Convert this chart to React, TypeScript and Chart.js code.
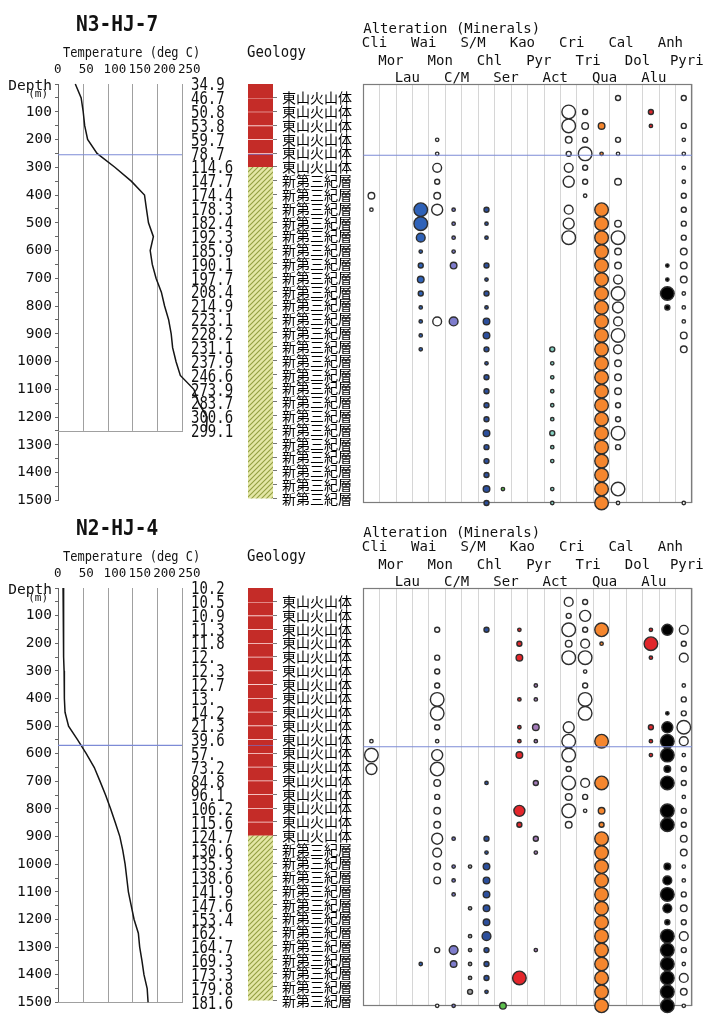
import React, { useEffect, useRef } from 'react';
import { Chart, registerables } from 'chart.js';

Chart.register(...registerables);

const MONO = '"DejaVu Sans Mono", monospace';
const CJK = '"Noto Sans CJK JP", sans-serif';

// ---------------- data ----------------
const minerals = ['Cli', 'Mor', 'Lau', 'Wai', 'Mon', 'C/M', 'S/M', 'Chl', 'Ser', 'Kao', 'Pyr', 'Act', 'Cri', 'Tri', 'Qua', 'Cal', 'Dol', 'Alu', 'Anh', 'Pyri'];

const tempTicks = [0, 50, 100, 150, 200, 250];
const depthAxisTicks = [0, 50, 100, 150, 200, 250, 300, 350, 400, 450, 500, 550, 600, 650, 700, 750, 800, 850, 900, 950, 1000, 1050, 1100, 1150, 1200, 1250, 1300, 1350, 1400, 1450, 1500];
const sampleDepths = [50, 100, 150, 200, 250, 300, 350, 400, 450, 500, 550, 600, 650, 700, 750, 800, 850, 900, 950, 1000, 1050, 1100, 1150, 1200, 1250, 1300, 1350, 1400, 1450, 1500];

const n3TempDepths = [0, 50, 100, 150, 200, 250, 300, 350, 400, 450, 500, 550, 600, 650, 700, 750, 800, 850, 900, 950, 1000, 1050, 1100, 1150, 1200, 1250];
const n3Temps = [34.9, 46.7, 50.8, 53.8, 59.7, 78.7, 114.6, 147.7, 174.4, 178.3, 182.4, 192.3, 185.9, 190.1, 197.7, 208.4, 214.9, 223.1, 228.2, 231.1, 237.9, 246.6, 273.9, 283.7, 300.6, 299.1];

const n2TempDepths = [0, 50, 100, 150, 200, 250, 300, 350, 400, 450, 500, 550, 600, 650, 700, 750, 800, 850, 900, 950, 1000, 1050, 1100, 1150, 1200, 1250, 1300, 1350, 1400, 1450, 1500];
const n2Temps = [10.2, 10.5, 10.9, 11.3, 11.8, 12, 12.3, 12.7, 13, 14.2, 21.3, 39.6, 57, 73.2, 84.8, 96.1, 106.2, 115.6, 124.7, 130.6, 135.3, 138.6, 141.9, 147.6, 153.4, 162, 164.7, 169.3, 173.3, 179.8, 181.6];

const V = '東山火山体';
const T = '新第三紀層';
const n3Geology = [V, V, V, V, V, V, T, T, T, T, T, T, T, T, T, T, T, T, T, T, T, T, T, T, T, T, T, T, T, T];
const n2Geology = [V, V, V, V, V, V, V, V, V, V, V, V, V, V, V, V, V, V, T, T, T, T, T, T, T, T, T, T, T, T];

const n3WaterLevel = 255;
const n2WaterLevel = 570;

// [depth (m), abundance class 1..6]
const n3Alteration: Record<string, [number, number][]> = {
  Cli: [[400, 3], [450, 1]],
  Wai: [[450, 6], [500, 6], [550, 4], [600, 1], [650, 2], [700, 3], [750, 2], [800, 1], [850, 1], [900, 1], [950, 1]],
  Mon: [[200, 1], [250, 1], [300, 4], [350, 2], [400, 3], [450, 5], [850, 4]],
  'C/M': [[450, 1], [500, 1], [550, 1], [600, 1], [650, 3], [850, 4]],
  Chl: [[450, 2], [500, 1], [550, 1], [650, 2], [700, 1], [750, 2], [800, 1], [850, 3], [900, 3], [950, 2], [1000, 1], [1050, 2], [1100, 2], [1150, 2], [1200, 2], [1250, 3], [1300, 2], [1350, 2], [1400, 2], [1450, 3], [1500, 2]],
  Ser: [[1450, 1]],
  Act: [[950, 2], [1000, 1], [1050, 1], [1100, 1], [1150, 1], [1200, 1], [1250, 2], [1300, 1], [1350, 1], [1450, 1], [1500, 1]],
  Cri: [[100, 6], [150, 6], [200, 3], [250, 2], [300, 4], [350, 5], [450, 4], [500, 5], [550, 6]],
  Tri: [[100, 2], [150, 3], [200, 2], [250, 6], [300, 2], [350, 2], [400, 1]],
  Qua: [[150, 3], [250, 1], [450, 6], [500, 6], [550, 6], [600, 6], [650, 6], [700, 6], [750, 6], [800, 6], [850, 6], [900, 6], [950, 6], [1000, 6], [1050, 6], [1100, 6], [1150, 6], [1200, 6], [1250, 6], [1300, 6], [1350, 6], [1400, 6], [1450, 6], [1500, 6]],
  Cal: [[50, 2], [200, 2], [250, 1], [350, 3], [500, 3], [550, 6], [600, 3], [650, 3], [700, 4], [750, 6], [800, 5], [850, 4], [900, 6], [950, 4], [1000, 3], [1050, 3], [1100, 3], [1150, 2], [1200, 2], [1250, 6], [1300, 2], [1450, 6], [1500, 1]],
  Alu: [[100, 2], [150, 1]],
  Anh: [[650, 1], [700, 1], [750, 6], [800, 2]],
  Pyri: [[50, 2], [150, 2], [200, 1], [250, 1], [300, 1], [350, 1], [400, 2], [450, 2], [500, 2], [550, 2], [600, 3], [650, 3], [700, 3], [750, 1], [800, 1], [850, 1], [900, 3], [950, 3], [1500, 1]],
};

const n2Alteration: Record<string, [number, number][]> = {
  Cli: [[550, 1], [600, 6], [650, 5]],
  Wai: [[1350, 1]],
  Mon: [[150, 2], [250, 2], [300, 2], [350, 2], [400, 6], [450, 6], [500, 2], [550, 1], [600, 5], [650, 6], [700, 3], [750, 2], [800, 3], [850, 3], [900, 5], [950, 4], [1000, 3], [1050, 3], [1300, 2], [1500, 1]],
  'C/M': [[900, 1], [1000, 1], [1050, 1], [1100, 1], [1300, 4], [1350, 3], [1500, 1]],
  'S/M': [[1000, 1], [1150, 1], [1250, 1], [1300, 1], [1350, 1], [1400, 1], [1450, 2]],
  Chl: [[150, 2], [700, 1], [900, 2], [950, 1], [1000, 3], [1050, 3], [1100, 3], [1150, 3], [1200, 3], [1250, 4], [1300, 2], [1350, 2], [1400, 2], [1450, 1]],
  Ser: [[1500, 3]],
  Kao: [[150, 1], [200, 2], [250, 3], [400, 1], [500, 1], [550, 1], [600, 3], [800, 5], [850, 2], [1400, 6]],
  Pyr: [[350, 1], [400, 1], [500, 3], [550, 1], [700, 2], [900, 2], [950, 1], [1300, 1]],
  Cri: [[50, 4], [100, 2], [150, 6], [200, 3], [250, 6], [500, 5], [550, 6], [600, 6], [650, 2], [700, 6], [750, 3], [800, 6], [850, 3]],
  Tri: [[50, 2], [100, 5], [150, 2], [200, 4], [250, 6], [300, 1], [350, 2], [400, 6], [450, 6], [700, 4], [750, 2], [800, 1]],
  Qua: [[150, 6], [200, 1], [550, 6], [700, 6], [800, 3], [850, 2], [900, 6], [950, 6], [1000, 6], [1050, 6], [1100, 6], [1150, 6], [1200, 6], [1250, 6], [1300, 6], [1350, 6], [1400, 6], [1450, 6], [1500, 6]],
  Alu: [[150, 1], [200, 6], [250, 1], [500, 2], [550, 1], [600, 1]],
  Anh: [[150, 5], [450, 1], [500, 5], [550, 6], [600, 6], [650, 3], [700, 6], [800, 6], [850, 6], [1000, 3], [1050, 4], [1100, 6], [1150, 4], [1200, 2], [1250, 6], [1300, 6], [1350, 6], [1400, 6], [1450, 6], [1500, 6]],
  Pyri: [[150, 4], [200, 2], [250, 4], [350, 1], [400, 2], [450, 2], [500, 6], [550, 4], [600, 1], [650, 2], [700, 2], [750, 1], [800, 2], [850, 2], [900, 3], [950, 3], [1000, 1], [1050, 1], [1100, 2], [1150, 3], [1200, 2], [1250, 4], [1300, 2], [1350, 1], [1400, 4], [1450, 3], [1500, 1]],
};

// ---------------- styles ----------------
const WHITE = '#ffffff';
const mineralFill: Record<string, string> = {
  Cli: WHITE, Mor: WHITE, Lau: WHITE, Wai: '#2f62b8', Mon: WHITE, 'C/M': '#7e7ccc', 'S/M': '#a0a0a0',
  Chl: '#2c4f9c', Ser: '#5cc04c', Kao: '#e4262b', Pyr: '#a27ab8', Act: '#86d2c2', Cri: WHITE, Tri: WHITE,
  Qua: '#f5862e', Cal: WHITE, Dol: '#e4262b', Alu: '#e0262b', Anh: '#000000', Pyri: WHITE,
};
const RADII = [0, 1.7, 2.5, 3.3, 4.4, 5.5, 6.8];
const WL_COLOR = '#7d8bd6';
const RED = '#c42c28';

interface PanelCfg {
  title: string;
  top: number;
  height: number;
  plotTop: number;
  plotBottom: number;
  tempDepths: number[];
  temps: number[];
  tempFrameEnd: number;
  waterLevel: number;
  geology: string[];
  alteration: Record<string, [number, number][]>;
}

const panelN3: PanelCfg = {
  title: 'N3-HJ-7', top: 0, height: 512, plotTop: 84, plotBottom: 503,
  tempDepths: n3TempDepths, temps: n3Temps, tempFrameEnd: 1250, waterLevel: n3WaterLevel,
  geology: n3Geology, alteration: n3Alteration,
};
const panelN2: PanelCfg = {
  title: 'N2-HJ-4', top: 504, height: 510, plotTop: 84, plotBottom: 502,
  tempDepths: n2TempDepths, temps: n2Temps, tempFrameEnd: 1500, waterLevel: n2WaterLevel,
  geology: n2Geology, alteration: n2Alteration,
};

function fmtTemp(t: number) {
  return Number.isInteger(t) ? `${t}.` : t.toFixed(1);
}

function drawText(ctx: CanvasRenderingContext2D, text: string, x: number, y: number, font: string, o: any = {}) {
  ctx.save();
  ctx.translate(x, y);
  ctx.scale(o.sx ?? 1, o.sy ?? 1);
  ctx.font = font;
  ctx.fillStyle = o.color ?? '#111';
  ctx.textAlign = o.align ?? 'left';
  ctx.textBaseline = o.baseline ?? 'alphabetic';
  ctx.fillText(text, 0, 0);
  ctx.restore();
}

// ---------------- temperature chart ----------------
function makeTemp(canvas: HTMLCanvasElement, p: PanelCfg) {
  const W = 240;
  const decor = {
    id: 'tempDecor',
    beforeDatasetsDraw(chart: any) {
      const { ctx } = chart;
      const x = chart.scales.x, y = chart.scales.y;
      const y0 = y.getPixelForValue(0), y1 = y.getPixelForValue(p.tempFrameEnd);
      ctx.save();
      ctx.strokeStyle = '#a0a0a0';
      ctx.lineWidth = 1;
      ctx.beginPath();
      tempTicks.slice(1).forEach((v) => {
        const px = Math.round(x.getPixelForValue(v)) + 0.5;
        ctx.moveTo(px, y0);
        ctx.lineTo(px, y1);
      });
      const py = Math.round(y1) + 0.5;
      ctx.moveTo(x.getPixelForValue(0), py);
      ctx.lineTo(x.getPixelForValue(250) + 1, py);
      ctx.stroke();
      ctx.restore();
    },
    afterDraw(chart: any) {
      const { ctx, chartArea } = chart;
      const y = chart.scales.y;
      drawText(ctx, p.title, 76, 30.5, `bold 19.5px ${MONO}`, { sy: 1.05 });
      drawText(ctx, 'Temperature (deg C)', 63, 57, `12px ${MONO}`, { sy: 1.15 });
      drawText(ctx, 'Depth', 52, 90, `14.5px ${MONO}`, { align: 'right' });
      drawText(ctx, '(m)', 48, 97, `11px ${MONO}`, { align: 'right' });
      p.temps.forEach((t, i) => {
        drawText(ctx, fmtTemp(t), chartArea.right + 9, y.getPixelForValue(p.tempDepths[i]) + 1.5, `14px ${MONO}`, { baseline: 'middle', sy: 1.3 });
      });
    },
  };
  return new Chart(canvas, {
    type: 'line',
    data: {
      datasets: [
        { data: p.temps.map((t, i) => ({ x: t, y: p.tempDepths[i] })), borderColor: '#151515', borderWidth: 1.5, pointRadius: 0, clip: false, order: 1 } as any,
        { data: [{ x: 0, y: p.waterLevel }, { x: 250, y: p.waterLevel }], borderColor: WL_COLOR, borderWidth: 1.2, pointRadius: 0, order: 0 } as any,
      ],
    },
    options: {
      animation: false,
      responsive: false,
      events: [],
      layout: { padding: { left: 0, right: W - 182, top: 0, bottom: p.height - p.plotBottom } },
      plugins: { legend: { display: false }, tooltip: { enabled: false } },
      scales: {
        x: {
          type: 'linear', position: 'top', min: 0, max: 250,
          afterBuildTicks: (s: any) => { s.ticks = tempTicks.map((v) => ({ value: v })); },
          afterFit: (s: any) => { s.height = p.plotTop; },
          ticks: { align: 'start', labelOffset: -4, padding: 7, maxRotation: 0, minRotation: 0, autoSkip: false, font: { family: MONO, size: 12.5 }, color: '#111' },
          grid: { display: false, drawTicks: false, tickLength: 0 },
          border: { display: false },
        },
        y: {
          type: 'linear', position: 'left', reverse: true, min: 0, max: 1500,
          afterBuildTicks: (s: any) => { s.ticks = depthAxisTicks.map((v) => ({ value: v })); },
          afterFit: (s: any) => { s.width = 58; },
          ticks: {
            autoSkip: false, padding: 3, font: { family: MONO, size: 14.5 }, color: '#111',
            callback: (v: any) => (v % 100 === 0 && v > 0 ? String(v) : ''),
          },
          grid: { drawOnChartArea: false, tickLength: 3, color: '#666' },
          border: { display: true, color: '#666' },
        },
      },
    } as any,
    plugins: [decor],
  });
}

// ---------------- geology chart ----------------
function makeHatch(ctx: CanvasRenderingContext2D) {
  const c = document.createElement('canvas');
  c.width = 5;
  c.height = 5;
  const g = c.getContext('2d')!;
  g.fillStyle = '#e4e7a6';
  g.fillRect(0, 0, 5, 5);
  g.strokeStyle = '#939f42';
  g.lineWidth = 1.1;
  g.beginPath();
  g.moveTo(0, 5); g.lineTo(5, 0);
  g.moveTo(-1, 1); g.lineTo(1, -1);
  g.moveTo(4, 6); g.lineTo(6, 4);
  g.stroke();
  return ctx.createPattern(c, 'repeat')!;
}

function makeGeo(canvas: HTMLCanvasElement, p: PanelCfg) {
  const hatch = makeHatch(canvas.getContext('2d')!);
  const decor = {
    id: 'geoDecor',
    afterDatasetsDraw(chart: any) {
      const { ctx, chartArea } = chart;
      const py = Math.round(chart.scales.y.getPixelForValue(p.waterLevel)) + 0.5;
      ctx.save();
      ctx.strokeStyle = 'rgba(110,120,215,0.6)';
      ctx.lineWidth = 1;
      ctx.beginPath();
      ctx.moveTo(chartArea.left, py);
      ctx.lineTo(chartArea.right, py);
      ctx.stroke();
      ctx.restore();
    },
    afterDraw(chart: any) {
      drawText(chart.ctx, 'Geology', 7, 57, `14px ${MONO}`, { sy: 1.08 });
    },
  };
  const datasets = p.geology.map((unit, i) => ({
    data: [[i === 0 ? 0 : sampleDepths[i - 1], sampleDepths[i]]],
    backgroundColor: unit === V ? RED : hatch,
    borderColor: 'rgba(255,226,226,0.95)',
    borderWidth: unit === V && i > 0 ? { top: 1, bottom: 0, left: 0, right: 0 } : 0,
    borderSkipped: false,
    grouped: false,
    barPercentage: 1,
    categoryPercentage: 1,
  }));
  return new Chart(canvas, {
    type: 'bar',
    data: { labels: ['geology'], datasets: datasets as any },
    options: {
      animation: false,
      responsive: false,
      events: [],
      layout: { padding: { left: 8, right: 0, top: p.plotTop, bottom: p.height - p.plotBottom } },
      plugins: { legend: { display: false }, tooltip: { enabled: false } },
      scales: {
        x: { display: false },
        y: {
          type: 'linear', position: 'right', reverse: true, min: 0, max: 1500,
          afterBuildTicks: (s: any) => { s.ticks = sampleDepths.map((v) => ({ value: v })); },
          afterFit: (s: any) => { s.width = 82; },
          ticks: { autoSkip: false, padding: 5, font: { family: CJK, size: 14 }, color: '#000', callback: (_v: any, i: number) => p.geology[i] },
          grid: { drawOnChartArea: false, tickLength: 4, color: '#777' },
          border: { display: false },
        },
      },
    } as any,
    plugins: [decor],
  });
}

// ---------------- alteration bubble chart ----------------
function makeBubble(canvas: HTMLCanvasElement, p: PanelCfg) {
  const columnEdges = minerals.map((_, i) => i + 0.5).concat([minerals.length + 0.5]);
  const datasets: any[] = minerals.map((m, i) => ({
    type: 'bubble',
    label: m,
    data: (p.alteration[m] || []).map(([d, lvl]) => ({ x: i + 1, y: d, r: RADII[lvl] })),
    backgroundColor: mineralFill[m],
    borderColor: '#2e2e2e',
    borderWidth: 1.4,
    clip: false,
    order: 2,
  }));
  datasets.push({
    type: 'line', label: 'water', data: [{ x: 0.5, y: p.waterLevel }, { x: minerals.length + 0.5, y: p.waterLevel }],
    borderColor: WL_COLOR, borderWidth: 1.2, pointRadius: 0, order: 0,
  });
  const decor = {
    id: 'bubbleDecor',
    beforeDatasetsDraw(chart: any) {
      const { ctx, chartArea: a } = chart;
      ctx.save();
      ctx.strokeStyle = '#7c7c7c';
      ctx.lineWidth = 1.2;
      ctx.strokeRect(Math.round(a.left) + 0.5, Math.round(a.top) + 0.5, Math.round(a.right - a.left) - 1, Math.round(a.bottom - a.top) - 1);
      ctx.restore();
    },
    afterDraw(chart: any) {
      const { ctx, chartArea } = chart;
      const x = chart.scales.x;
      drawText(ctx, 'Alteration (Minerals)', chartArea.left, 32.5, `14px ${MONO}`);
      const rows = [47, 64.5, 81.5];
      minerals.forEach((m, i) => {
        drawText(ctx, m, x.getPixelForValue(i + 1) + 3, rows[i % 3], `14px ${MONO}`, { align: 'center' });
      });
    },
  };
  return new Chart(canvas, {
    type: 'bubble',
    data: { datasets },
    options: {
      animation: false,
      responsive: false,
      events: [],
      layout: { padding: { left: 8, right: 17, top: p.plotTop, bottom: p.height - p.plotBottom } },
      plugins: { legend: { display: false }, tooltip: { enabled: false } },
      scales: {
        x: {
          type: 'linear', min: 0.5, max: minerals.length + 0.5,
          afterBuildTicks: (s: any) => { s.ticks = columnEdges.map((v) => ({ value: v })); },
          afterFit: (s: any) => { s.height = 0; },
          ticks: { display: false },
          grid: { color: '#d6d6d6', drawTicks: false },
          border: { display: false },
        },
        y: { type: 'linear', min: 0, max: 1500, reverse: true, display: false },
      },
    } as any,
    plugins: [decor],
  });
}

// ---------------- components ----------------
function Panel({ p }: { p: PanelCfg }) {
  const tRef = useRef<HTMLCanvasElement>(null);
  const gRef = useRef<HTMLCanvasElement>(null);
  const bRef = useRef<HTMLCanvasElement>(null);
  useEffect(() => {
    const charts = [makeTemp(tRef.current!, p), makeGeo(gRef.current!, p), makeBubble(bRef.current!, p)];
    return () => charts.forEach((c) => c.destroy());
  }, [p]);
  const st = (left: number, width: number): React.CSSProperties => ({ position: 'absolute', left, top: p.top, width, height: p.height });
  return (
    <>
      <canvas ref={tRef} width={240} height={p.height} style={st(0, 240)} />
      <canvas ref={gRef} width={115} height={p.height} style={st(240, 115)} />
      <canvas ref={bRef} width={354} height={p.height} style={st(355, 354)} />
    </>
  );
}

export default function App() {
  return (
    <div style={{ position: 'absolute', left: 0, top: 0, width: 709, height: 1015, background: '#fff', overflow: 'hidden' }}>
      <Panel p={panelN3} />
      <Panel p={panelN2} />
    </div>
  );
}
